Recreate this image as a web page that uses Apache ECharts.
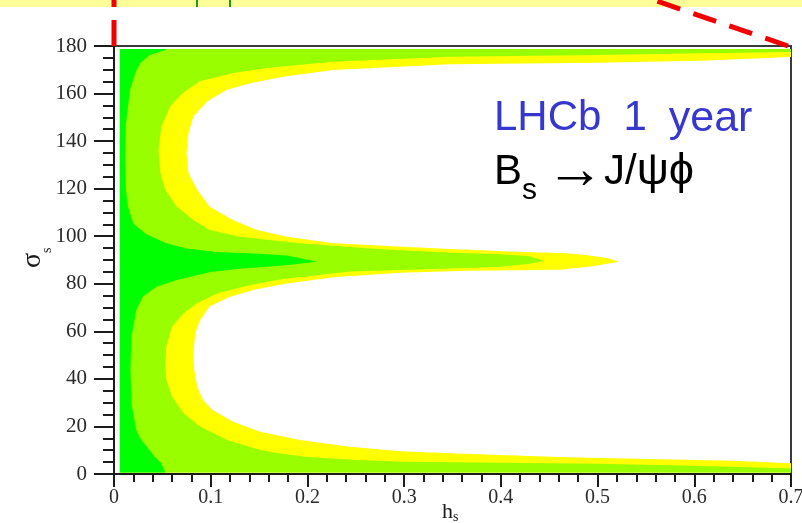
<!DOCTYPE html>
<html>
<head>
<meta charset="utf-8">
<script src="https://cdn.jsdelivr.net/npm/echarts@6/dist/echarts.min.js"></script>
<style>
  html, body { margin: 0; padding: 0; background: #ffffff; }
  #chart { width: 802px; height: 523px; }
</style>
</head>
<body>
<div id="chart"></div>
<script>
// Axis ticks
const xTickLabels = ['0', '0.1', '0.2', '0.3', '0.4', '0.5', '0.6', '0.7'];
const yTickValues = [0, 20, 40, 60, 80, 100, 120, 140, 160, 180];

// Confidence-region outlines in the (h_s, sigma_s) plane, each a closed path [h_s, sigma_s]
// traced from the bottom edge up to the top edge and back along h_s = 0.
const yellowEdge = [
  [0.006, 0.6], [0.70, 0.6], [0.70, 4.5], [0.64, 5.6], [0.554, 6.3], [0.468, 7.0],
  [0.40, 8.0], [0.347, 8.7], [0.296, 9.6], [0.244, 11.5], [0.192, 14.3], [0.151, 17.8],
  [0.123, 22.0], [0.102, 26.9], [0.092, 31.1], [0.086, 36.7], [0.083, 43.7], [0.082, 50.7],
  [0.084, 59.2], [0.089, 64.8], [0.099, 70.5], [0.120, 74.5], [0.145, 77.5], [0.180, 80.2],
  [0.230, 82.8], [0.296, 84.6], [0.365, 85.5], [0.461, 85.9], [0.495, 87.4], [0.522, 89.3],
  [0.510, 90.8], [0.490, 92.0], [0.468, 92.8], [0.416, 93.5], [0.330, 94.9], [0.227, 97.0],
  [0.179, 99.8], [0.148, 102.6], [0.123, 106.8], [0.099, 112.4], [0.086, 119.5], [0.077, 126.5],
  [0.075, 134.9], [0.077, 143.3], [0.082, 150.3], [0.096, 156.6], [0.116, 161.5], [0.141, 164.3],
  [0.175, 167.1], [0.226, 169.9], [0.347, 172.3], [0.500, 173.0], [0.606, 173.8], [0.70, 175.4],
  [0.70, 178.7], [0.006, 178.7]
];

const lightGreenEdge = [
  [0.006, 0.6], [0.70, 0.6], [0.70, 2.3], [0.60, 3.5], [0.50, 4.3], [0.40, 4.7],
  [0.30, 5.2], [0.25, 5.9], [0.20, 7.2], [0.17, 8.7], [0.151, 10.1], [0.117, 14.3],
  [0.089, 20.0], [0.072, 25.6], [0.060, 32.6], [0.054, 39.7], [0.053, 46.6], [0.054, 53.6],
  [0.060, 62.0], [0.072, 67.6], [0.086, 71.8], [0.107, 76.0], [0.141, 79.5], [0.175, 82.0],
  [0.244, 85.2], [0.330, 86.2], [0.400, 87.2], [0.430, 88.4], [0.445, 89.6], [0.430, 91.6],
  [0.400, 92.4], [0.350, 93.1], [0.300, 94.0], [0.261, 94.9], [0.192, 97.0], [0.130, 99.8],
  [0.099, 102.6], [0.082, 106.8], [0.065, 112.4], [0.053, 119.5], [0.048, 126.5], [0.046, 136.3],
  [0.049, 146.1], [0.058, 154.6], [0.071, 160.2], [0.088, 165.1], [0.123, 168.6], [0.158, 170.7],
  [0.226, 173.4], [0.347, 175.5], [0.503, 176.2], [0.606, 176.9], [0.70, 177.5], [0.70, 178.7],
  [0.006, 178.7]
];

const darkGreenEdge = [
  [0.006, 0.6], [0.053, 0.6], [0.051, 2.5], [0.049, 4.5], [0.042, 7.3], [0.034, 11.5],
  [0.027, 15.0], [0.023, 18.5], [0.018, 29.8], [0.017, 43.7], [0.018, 57.7], [0.023, 69.0],
  [0.030, 74.6], [0.044, 78.8], [0.065, 81.6], [0.100, 85.0], [0.130, 86.3], [0.175, 87.7],
  [0.210, 89.3], [0.179, 91.9], [0.151, 92.6], [0.106, 93.4], [0.075, 94.8], [0.054, 97.0],
  [0.033, 100.9], [0.020, 105.4], [0.0145, 112.4], [0.0124, 119.4], [0.0114, 133.4],
  [0.0124, 147.5], [0.0165, 161.5], [0.022, 168.6], [0.027, 172.7], [0.037, 176.2],
  [0.054, 178.4], [0.054, 178.7], [0.006, 178.7]
];

const regionColors = { yellow: '#ffff00', lightGreen: '#99ff00', darkGreen: '#00ff00' };

function regionSeries(name, edge, color) {
  return {
    type: 'custom',
    name: name,
    coordinateSystem: 'cartesian2d',
    silent: true,
    clip: true,
    data: edge,
    encode: { x: 0, y: 1 },
    renderItem: function (params, api) {
      if (params.dataIndex !== 0) return null;
      return {
        type: 'polygon',
        shape: { points: edge.map(function (p) { return api.coord(p); }) },
        style: { fill: color, stroke: null }
      };
    }
  };
}

const serif = '"Liberation Serif", "Times New Roman", serif';
const sans = '"Liberation Sans", Arial, sans-serif';
const axisColor = '#1c1c1c';

const chart = echarts.init(document.getElementById('chart'), null, { renderer: 'canvas' });

chart.setOption({
  animation: false,
  backgroundColor: '#ffffff',
  grid: {
    left: 114, right: 11, top: 46, bottom: 49,
    show: true, borderColor: '#3a3a3a', borderWidth: 2,
    containLabel: false, outerBoundsMode: 'none'
  },
  xAxis: {
    type: 'value', min: 0, max: 0.7, interval: 0.1,
    axisLine: { show: true, onZero: false, lineStyle: { color: axisColor, width: 2 } },
    axisTick: { show: true, length: 13, lineStyle: { color: axisColor, width: 2 } },
    minorTick: { show: true, splitNumber: 5, length: 8, lineStyle: { color: axisColor, width: 2 } },
    splitLine: { show: false },
    minorSplitLine: { show: false },
    axisLabel: {
      margin: 14, fontFamily: serif, fontSize: 20, color: '#2a2a2a',
      formatter: function (v) { return xTickLabels[Math.round(v * 10)]; }
    }
  },
  yAxis: {
    type: 'value', min: 0, max: 180, interval: 20,
    axisLine: { show: true, onZero: false, lineStyle: { color: axisColor, width: 2 } },
    axisTick: { show: true, length: 20, lineStyle: { color: axisColor, width: 2 } },
    minorTick: { show: true, splitNumber: 4, length: 11, lineStyle: { color: axisColor, width: 2 } },
    splitLine: { show: false },
    minorSplitLine: { show: false },
    axisLabel: {
      margin: 27, fontFamily: serif, fontSize: 21, color: '#2a2a2a',
      formatter: function (v) { return yTickValues.indexOf(v) >= 0 ? String(v) : ''; }
    }
  },
  series: [
    regionSeries('95%', yellowEdge, regionColors.yellow),
    regionSeries('90%', lightGreenEdge, regionColors.lightGreen),
    regionSeries('68%', darkGreenEdge, regionColors.darkGreen)
  ],
  graphic: [
    // slide banner strip and zoom guide lines above the plot (dashes start at the frame corners)
    { type: 'rect', shape: { x: 0, y: 0, width: 802, height: 7 }, style: { fill: '#ffff99' }, z: 1 },
    { type: 'line', shape: { x1: 197, y1: 0, x2: 197, y2: 7 }, style: { stroke: '#1f9a1f', lineWidth: 2 }, z: 2 },
    { type: 'line', shape: { x1: 230, y1: 0, x2: 230, y2: 7 }, style: { stroke: '#1f9a1f', lineWidth: 2 }, z: 2 },
    { type: 'line', shape: { x1: 114, y1: 46, x2: 114, y2: -19 },
      style: { stroke: '#f00000', lineWidth: 5, lineDash: [26, 13] }, z: 3 },
    { type: 'line', shape: { x1: 788, y1: 46, x2: 648, y2: -2 },
      style: { stroke: '#f00000', lineWidth: 5, lineDash: [24, 14] }, z: 3 },
    // axis titles; top padding pushes each subscript below its baseline
    {
      type: 'text', x: 18.5, y: 268, rotation: Math.PI / 2, z: 5,
      style: {
        text: '{a|σ}{b|s}', align: 'left', verticalAlign: 'top',
        rich: {
          a: { fontFamily: serif, fontSize: 28, lineHeight: 28, verticalAlign: 'top', fill: '#1a1a1a' },
          b: { fontFamily: serif, fontSize: 14, lineHeight: 28, verticalAlign: 'top', padding: [21.8, 0, 0, 0], fill: '#1a1a1a' }
        }
      }
    },
    {
      type: 'text', x: 442, y: 501.6, z: 5,
      style: {
        text: '{a|h}{b|s}', align: 'left', verticalAlign: 'top',
        rich: {
          a: { fontFamily: serif, fontSize: 22, lineHeight: 22, verticalAlign: 'top', fill: '#1a1a1a' },
          b: { fontFamily: serif, fontSize: 14, lineHeight: 22, verticalAlign: 'top', padding: [8.7, 0, 0, 0], fill: '#1a1a1a' }
        }
      }
    },
    // in-plot annotations
    {
      type: 'text', x: 494, y: 97.4, z: 5,
      style: {
        text: '{t|LHCb}{sp| }{t|1}{sp| }{y|year}', align: 'left', verticalAlign: 'top',
        rich: {
          t: { fontFamily: sans, fontSize: 42, lineHeight: 42, verticalAlign: 'top', fill: '#3737cf' },
          y: { fontFamily: sans, fontSize: 43, lineHeight: 42, verticalAlign: 'top', fill: '#3737cf' },
          sp: { fontFamily: sans, fontSize: 42, lineHeight: 42, width: 22, verticalAlign: 'top', fill: '#3737cf' }
        }
      }
    },
    {
      type: 'text', x: 494, y: 151, z: 5,
      style: {
        text: '{a|B}{b|s}{sp| }{ar|→}{a|J/}{g|ψϕ}', align: 'left', verticalAlign: 'top',
        rich: {
          a: { fontFamily: sans, fontSize: 42, lineHeight: 42, verticalAlign: 'top', fill: '#000000' },
          b: { fontFamily: sans, fontSize: 30, lineHeight: 42, verticalAlign: 'top', padding: [25.2, 0, 0, 0], fill: '#000000' },
          sp: { fontFamily: sans, fontSize: 42, lineHeight: 42, width: 9, verticalAlign: 'top', fill: '#000000' },
          ar: { fontFamily: sans, fontSize: 58, lineHeight: 42, verticalAlign: 'middle', fill: '#000000' },
          g: { fontFamily: sans, fontSize: 45, lineHeight: 42, verticalAlign: 'middle', fill: '#000000' }
        }
      }
    }
  ]
});
</script>
</body>
</html>
